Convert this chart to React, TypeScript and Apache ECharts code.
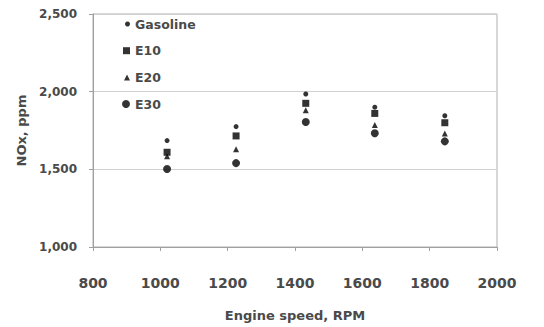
import React, { useEffect, useRef } from "react";
import * as echarts from "echarts";

const speeds = [1020, 1225, 1432, 1637, 1845];
const gasoline = [1685, 1775, 1985, 1900, 1845];
const e10 = [1610, 1715, 1925, 1860, 1800];
const e20 = [1585, 1630, 1880, 1785, 1730];
const e30 = [1502, 1540, 1805, 1732, 1680];

const seriesNames = ["Gasoline", "E10", "E20", "E30"];
const seriesValues = [gasoline, e10, e20, e30];
const seriesSymbols = ["circle", "rect", "triangle", "circle"];
const seriesSizes = [5, 7, 6, 8];
const legendCenters = [25, 51.7, 78.5, 105];

const xTicks = { min: 800, max: 2000, interval: 200 };
const yTicks = { min: 1000, max: 2500, interval: 500 };

const FONT = "DejaVu Sans";
const TEXT = "#4a4a4a";

export default function App() {
  const ref = useRef<HTMLDivElement>(null);
  useEffect(() => {
    const chart = echarts.init(ref.current!, undefined, { renderer: "svg" });
    const legends = seriesNames.map((name, i) => {
      const w = seriesSizes[i];
      return {
        data: [{ name, icon: seriesSymbols[i] }],
        orient: "vertical",
        left: 135 - 5 - w,
        top: legendCenters[i] - 7.5,
        padding: 0,
        itemWidth: w,
        itemHeight: w,
        itemGap: 5,
        textStyle: { fontFamily: FONT, fontSize: 12.5, fontWeight: "bold", color: TEXT },
      };
    });
    chart.setOption({
      animation: false,
      backgroundColor: "#ffffff",
      grid: {
        left: 93,
        right: 47,
        top: 14,
        bottom: 80,
        show: true,
        borderColor: "#b0b0b0",
        borderWidth: 1,
      },
      legend: legends,
      xAxis: {
        type: "value",
        min: xTicks.min,
        max: xTicks.max,
        interval: xTicks.interval,
        name: "Engine speed, RPM",
        nameLocation: "middle",
        nameGap: 62,
        nameTextStyle: { fontFamily: FONT, fontSize: 13, fontWeight: "bold", color: TEXT },
        axisLine: { show: true, lineStyle: { color: "#a0a0a0" } },
        axisTick: { show: true, length: 4, lineStyle: { color: "#a0a0a0" } },
        splitLine: { show: false },
        axisLabel: {
          margin: 29,
          fontFamily: FONT,
          fontSize: 14,
          fontWeight: "bold",
          color: TEXT,
          formatter: (v: number) => String(v),
        },
      },
      yAxis: {
        type: "value",
        min: yTicks.min,
        max: yTicks.max,
        interval: yTicks.interval,
        name: "NOx, ppm",
        nameLocation: "middle",
        nameGap: 59,
        nameTextStyle: { fontFamily: FONT, fontSize: 13, fontWeight: "bold", color: TEXT },
        axisLine: { show: true, lineStyle: { color: "#a0a0a0" } },
        axisTick: { show: true, length: 4, lineStyle: { color: "#a0a0a0" } },
        splitLine: { show: true, lineStyle: { color: "#d0d0d0" } },
        axisLabel: {
          margin: 16,
          fontFamily: FONT,
          fontSize: 12,
          fontWeight: "bold",
          color: TEXT,
          formatter: (v: number) => v.toLocaleString("en-US"),
        },
      },
      series: seriesNames.map((name, i) => ({
        name,
        type: "scatter",
        symbol: seriesSymbols[i],
        symbolSize: seriesSizes[i],
        itemStyle: { color: "#000000" },
        data: speeds.map((s, j) => [s, seriesValues[i][j]]),
      })),
    });
    return () => chart.dispose();
  }, []);
  return (
    <div
      ref={ref}
      style={{ position: "fixed", left: 0, top: 0, width: 544, height: 327, background: "#fff" }}
    />
  );
}
